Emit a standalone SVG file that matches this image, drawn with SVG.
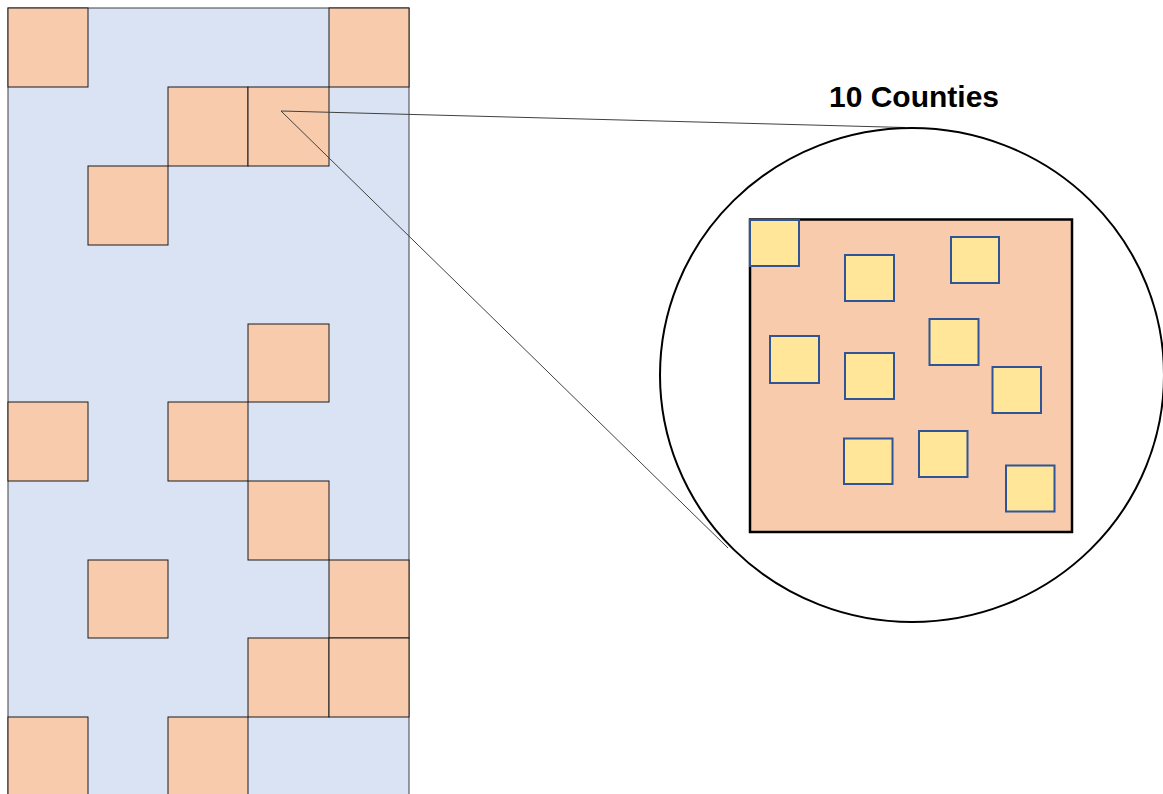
<svg xmlns="http://www.w3.org/2000/svg" width="1163" height="794" viewBox="0 0 1163 794">
<style>
.bg{fill:#DAE3F3;stroke:#404040;stroke-width:1}
.cell{fill:#F8CBAD;stroke:#1a1a1a;stroke-width:1}
.county{fill:#FFE699;stroke:#2F5597;stroke-width:2}
.conn{stroke:#404040;stroke-width:1;fill:none}
.title{font-family:"Liberation Sans",Arial,sans-serif;font-weight:bold;font-size:30px;fill:#000}
</style>
<rect width="1163" height="794" fill="#fff"/>
<g id="grid">
<rect class="bg" x="8" y="8" width="401" height="800"/>
<rect class="cell" x="8" y="8" width="80" height="79"/>
<rect class="cell" x="329" y="8" width="80" height="79"/>
<rect class="cell" x="168" y="87" width="80" height="79"/>
<rect class="cell" x="248" y="87" width="81" height="79"/>
<rect class="cell" x="88" y="166" width="80" height="79"/>
<rect class="cell" x="248" y="324" width="81" height="78"/>
<rect class="cell" x="8" y="402" width="80" height="79"/>
<rect class="cell" x="168" y="402" width="80" height="79"/>
<rect class="cell" x="248" y="481" width="81" height="79"/>
<rect class="cell" x="88" y="560" width="80" height="78"/>
<rect class="cell" x="329" y="560" width="80" height="78"/>
<rect class="cell" x="248" y="638" width="81" height="79"/>
<rect class="cell" x="329" y="638" width="80" height="79"/>
<rect class="cell" x="8" y="717" width="80" height="90"/>
<rect class="cell" x="168" y="717" width="80" height="90"/>
</g>
<g id="connectors">
<line class="conn" x1="281" y1="111" x2="905" y2="127.5"/>
<line class="conn" x1="281" y1="111" x2="728" y2="548"/>
</g>
<g id="zoom">
<ellipse cx="912" cy="375" rx="252" ry="247" fill="none" stroke="#000" stroke-width="2"/>
<rect x="750" y="219.5" width="322" height="312.5" fill="#F8CBAD" stroke="#000" stroke-width="2.5"/>
<rect class="county" x="750" y="220" width="49" height="46"/>
<rect class="county" x="845" y="255" width="49" height="46"/>
<rect class="county" x="951" y="237" width="48" height="46"/>
<rect class="county" x="770" y="336" width="49" height="47"/>
<rect class="county" x="845" y="353" width="49" height="46"/>
<rect class="county" x="929.5" y="319" width="49" height="46"/>
<rect class="county" x="992.5" y="367" width="48.5" height="46"/>
<rect class="county" x="844" y="438.5" width="48.5" height="45.5"/>
<rect class="county" x="919" y="431" width="48.5" height="46"/>
<rect class="county" x="1006" y="465.5" width="48.5" height="46"/>
</g>
<text class="title" x="914" y="107" text-anchor="middle">10 Counties</text>
</svg>
